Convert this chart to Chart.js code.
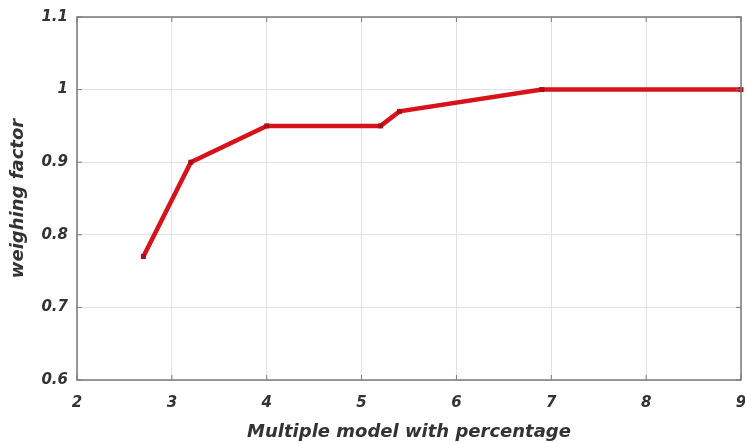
<!DOCTYPE html>
<html>
<head>
<meta charset="utf-8">
<script src="https://cdn.jsdelivr.net/npm/chart.js@4.4.0/dist/chart.umd.min.js"></script>
<style>
  html, body { margin: 0; padding: 0; background: #fff; }
  #wrap { width: 745px; height: 443px; }
</style>
</head>
<body>
<div id="wrap"><canvas id="chart" width="745" height="443"></canvas></div>
<script>
// data
const xValues = [2.7, 3.2, 4.0, 5.2, 5.4, 6.9, 9.0];
const weights = [0.77, 0.90, 0.95, 0.95, 0.97, 1.00, 1.00];
const xTicks = [2, 3, 4, 5, 6, 7, 8, 9];
const yTicks = [0.6, 0.7, 0.8, 0.9, 1.0, 1.1];

const tickFont = { family: 'DejaVu Sans, sans-serif', size: 15, weight: 'bold', style: 'italic' };
const titleFont = { family: 'DejaVu Sans, sans-serif', size: 18, weight: 'bold', style: 'italic' };

// box round the plot + small inward tick marks, like the matlab axes
const framePlugin = {
    id: 'frame',
    afterDatasetsDraw(chart) {
        const { ctx, chartArea: a, scales } = chart;
        ctx.save();
        ctx.strokeStyle = '#7a7a7a';
        ctx.lineWidth = 1.5;
        ctx.strokeRect(a.left, a.top, a.right - a.left, a.bottom - a.top);
        ctx.lineWidth = 1;
        ctx.beginPath();
        xTicks.forEach(v => {
            const px = scales.x.getPixelForValue(v);
            ctx.moveTo(px, a.bottom); ctx.lineTo(px, a.bottom - 5);
            ctx.moveTo(px, a.top); ctx.lineTo(px, a.top + 5);
        });
        yTicks.forEach(v => {
            const py = scales.y.getPixelForValue(v);
            ctx.moveTo(a.left, py); ctx.lineTo(a.left + 5, py);
            ctx.moveTo(a.right, py); ctx.lineTo(a.right - 5, py);
        });
        ctx.stroke();
        ctx.restore();
    }
};

new Chart(document.getElementById('chart'), {
    type: 'line',
    data: {
        datasets: [{
            data: xValues.map((x, i) => ({ x: x, y: weights[i] })),
            borderColor: '#d8121a',
            backgroundColor: '#a80e16',
            borderWidth: 4.5,
            pointStyle: 'rect',
            pointRadius: 3.5,
            pointBorderWidth: 0,
            tension: 0,
            clip: false
        }]
    },
    options: {
        responsive: false,
        animation: false,
        layout: { padding: { top: 17, right: 3, left: 8, bottom: 0 } },
        plugins: { legend: { display: false }, tooltip: { enabled: false } },
        scales: {
            x: {
                type: 'linear',
                min: 2, max: 9,
                afterBuildTicks: s => { s.ticks = xTicks.map(v => ({ value: v })); },
                afterFit: s => { s.height = 63; s.paddingLeft = 0; s.paddingRight = 0; },
                grid: { color: '#e2e2e2', drawTicks: false },
                border: { display: false },
                ticks: { font: tickFont, color: '#333', padding: 14, maxRotation: 0 },
                title: { display: true, text: 'Multiple model with percentage', font: titleFont, color: '#333', padding: { top: 2, bottom: 0 } }
            },
            y: {
                min: 0.6, max: 1.1,
                afterBuildTicks: s => { s.ticks = yTicks.map(v => ({ value: v })); },
                afterFit: s => { s.width = 69; s.paddingTop = 0; s.paddingBottom = 0; },
                grid: { color: '#e2e2e2', drawTicks: false },
                border: { display: false },
                ticks: {
                    font: tickFont, color: '#333', padding: 9,
                    callback: v => (Math.round(v * 10) / 10).toString()
                },
                title: { display: true, text: 'weighing factor', font: titleFont, color: '#333', padding: { top: 0, bottom: 4 } }
            }
        }
    },
    plugins: [framePlugin]
});
</script>
</body>
</html>
